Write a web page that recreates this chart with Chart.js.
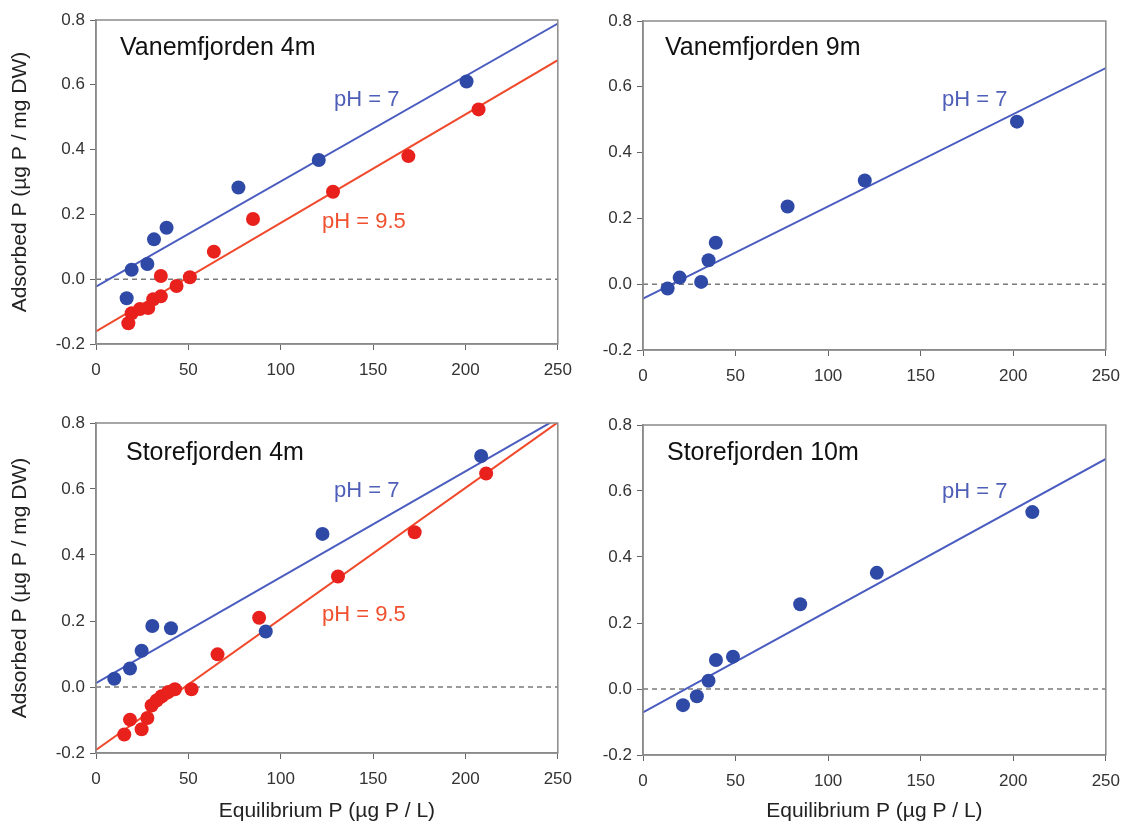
<!DOCTYPE html>
<html>
  <head>
    <title>Phosphorus adsorption isotherms</title>
    <style>
      body { margin: 0; background: #fff; width: 1122px; height: 828px; position: relative; overflow: hidden; }
      .panel { position: absolute; }
    </style>
  </head>
  <body>
    <script src="https://cdn.jsdelivr.net/npm/chart.js"></script>

    <canvas id="c1" class="panel" style="left:0px;top:0px" width="582" height="405"></canvas>
    <canvas id="c2" class="panel" style="left:565px;top:0px" width="565" height="405"></canvas>
    <canvas id="c3" class="panel" style="left:0px;top:405px" width="582" height="423"></canvas>
    <canvas id="c4" class="panel" style="left:565px;top:405px" width="565" height="423"></canvas>

    <script>
      // Vanemfjorden 4m
      const v4BlueX = [16.6, 19.3, 27.8, 31.4, 38.2, 77.1, 120.6, 200.6];
      const v4BlueY = [-0.059, 0.029, 0.047, 0.123, 0.159, 0.283, 0.368, 0.610];
      const v4RedX = [17.5, 19.3, 23.8, 28.3, 31.0, 35.1, 35.1, 43.6, 50.8, 63.8, 85.0, 128.3, 169.1, 207.1];
      const v4RedY = [-0.136, -0.105, -0.092, -0.089, -0.062, -0.053, 0.010, -0.021, 0.006, 0.085, 0.186, 0.270, 0.380, 0.524];
      const v4BlueFit = [-0.023, 0.789]; // value at x=0 and x=250
      const v4RedFit = [-0.161, 0.676];

      // Vanemfjorden 9m
      const v9BlueX = [13.3, 19.8, 31.4, 35.4, 39.3, 78.1, 119.8, 202.0];
      const v9BlueY = [-0.013, 0.020, 0.007, 0.073, 0.126, 0.236, 0.315, 0.494];
      const v9BlueFit = [-0.044, 0.657];

      // Storefjorden 4m
      const s4BlueX = [9.9, 18.4, 24.7, 30.5, 40.6, 91.9, 122.6, 208.5];
      const s4BlueY = [0.025, 0.056, 0.110, 0.185, 0.178, 0.168, 0.464, 0.700];
      const s4RedX = [15.3, 18.4, 24.7, 27.8, 30.1, 32.8, 35.5, 39.1, 42.7, 51.7, 65.8, 88.3, 131.0, 172.5, 211.2];
      const s4RedY = [-0.144, -0.099, -0.128, -0.094, -0.056, -0.041, -0.028, -0.015, -0.007, -0.007, 0.099, 0.210, 0.335, 0.469, 0.647];
      const s4BlueFit = [0.012, 0.814];
      const s4RedFit = [-0.191, 0.802];

      // Storefjorden 10m
      const s10BlueX = [21.6, 29.1, 35.4, 39.4, 48.6, 84.9, 126.3, 210.3];
      const s10BlueY = [-0.049, -0.022, 0.025, 0.088, 0.098, 0.257, 0.352, 0.536];
      const s10BlueFit = [-0.071, 0.697];

      const xTicks = [0, 50, 100, 150, 200, 250];
      const yTicks = [-0.2, 0.0, 0.2, 0.4, 0.6, 0.8];

      const BLUE_PT = '#2f49a6';
      const BLUE_LN = '#4a5cc0';
      const BLUE_TX = '#4f5fb8';
      const RED_PT = '#e8211d';
      const RED_LN = '#f0492c';
      const RED_TX = '#f0502e';
      const FONT = 'Arial, "Liberation Sans", sans-serif';

      function pts(xs, ys) {
        return xs.map((x, i) => ({ x: x, y: ys[i] }));
      }

      function fitLine(fit) {
        return [{ x: xTicks[0], y: fit[0] }, { x: xTicks[xTicks.length - 1], y: fit[1] }];
      }

      // draws the frame round the plot area and the text labels inside it
      const framePlugin = {
        id: 'frame',
        afterDraw(chart, args, opts) {
          const ctx = chart.ctx;
          const a = chart.chartArea;
          ctx.save();
          ctx.strokeStyle = '#8a8a8a';
          ctx.lineWidth = 1.5;
          ctx.strokeRect(a.left, a.top, a.right - a.left, a.bottom - a.top);
          ctx.textBaseline = 'middle';
          (opts.labels || []).forEach(l => {
            ctx.fillStyle = l.color;
            ctx.font = l.size + 'px ' + FONT;
            ctx.fillText(l.text, l.px, l.py);
          });
          ctx.restore();
        }
      };

      function makePanel(id, series, cfg) {
        const datasets = [
          {
            type: 'line',
            data: [{ x: 0, y: 0 }, { x: 250, y: 0 }],
            borderColor: '#7a7a7a',
            borderWidth: 1.5,
            borderDash: [5, 4],
            pointRadius: 0,
            order: 3,
          },
        ];
        series.forEach(s => {
          datasets.push({
            type: 'line',
            data: fitLine(s.fit),
            borderColor: s.lineColor,
            borderWidth: 2,
            pointRadius: 0,
            order: 2,
          });
          datasets.push({
            type: 'scatter',
            data: pts(s.x, s.y),
            backgroundColor: s.pointColor,
            borderColor: s.pointColor,
            pointRadius: 7,
            borderWidth: 0,
            order: 1,
          });
        });

        new Chart(document.getElementById(id), {
          type: 'scatter',
          data: { datasets: datasets },
          options: {
            responsive: false,
            animation: false,
            layout: { padding: { top: cfg.top, right: cfg.right, left: 0, bottom: 0 } },
            plugins: {
              legend: { display: false },
              tooltip: { enabled: false },
              frame: { labels: cfg.labels },
            },
            scales: {
              x: {
                type: 'linear',
                min: 0,
                max: 250,
                afterBuildTicks: s => { s.ticks = xTicks.map(v => ({ value: v })); },
                ticks: { color: '#333', font: { size: 17, family: FONT }, padding: 10 },
                grid: { drawOnChartArea: false, drawTicks: true, tickLength: 6, color: '#666' },
                border: { color: '#8a8a8a', width: 1.5 },
                title: {
                  display: cfg.xTitle,
                  text: 'Equilibrium P (µg P / L)',
                  color: '#222',
                  font: { size: 21, family: FONT },
                  padding: { top: 4, bottom: 4 },
                },
                afterFit: s => { s.height = cfg.xHeight; },
              },
              y: {
                type: 'linear',
                min: -0.2,
                max: 0.8,
                afterBuildTicks: s => { s.ticks = yTicks.map(v => ({ value: v })); },
                ticks: {
                  color: '#333',
                  font: { size: 17, family: FONT },
                  padding: 5,
                  callback: v => v.toFixed(1),
                },
                grid: { drawOnChartArea: false, drawTicks: true, tickLength: 6, color: '#666' },
                border: { color: '#8a8a8a', width: 1.5 },
                title: {
                  display: cfg.yTitle,
                  text: 'Adsorbed P (µg P / mg DW)',
                  color: '#222',
                  font: { size: 21, family: FONT },
                  padding: { top: 8, bottom: 0 },
                },
                afterFit: s => { s.width = cfg.yWidth; },
              },
            },
          },
          plugins: [framePlugin],
        });
      }

      makePanel('c1', [
        { x: v4BlueX, y: v4BlueY, fit: v4BlueFit, pointColor: BLUE_PT, lineColor: BLUE_LN },
        { x: v4RedX, y: v4RedY, fit: v4RedFit, pointColor: RED_PT, lineColor: RED_LN },
      ], {
        top: 20, right: 16, yWidth: 96, xHeight: 61, xTitle: false, yTitle: true,
        labels: [
          { text: 'Vanemfjorden 4m', px: 120, py: 48, color: '#111', size: 25 },
          { text: 'pH = 7', px: 334, py: 100, color: BLUE_TX, size: 22 },
          { text: 'pH = 9.5', px: 322, py: 222, color: RED_TX, size: 22 },
        ],
      });

      makePanel('c2', [
        { x: v9BlueX, y: v9BlueY, fit: v9BlueFit, pointColor: BLUE_PT, lineColor: BLUE_LN },
      ], {
        top: 21, right: 16, yWidth: 78, xHeight: 55, xTitle: false, yTitle: false,
        labels: [
          { text: 'Vanemfjorden 9m', px: 100, py: 48, color: '#111', size: 25 },
          { text: 'pH = 7', px: 377, py: 100, color: BLUE_TX, size: 22 },
        ],
      });

      makePanel('c3', [
        { x: s4BlueX, y: s4BlueY, fit: s4BlueFit, pointColor: BLUE_PT, lineColor: BLUE_LN },
        { x: s4RedX, y: s4RedY, fit: s4RedFit, pointColor: RED_PT, lineColor: RED_LN },
      ], {
        top: 18, right: 16, yWidth: 96, xHeight: 75, xTitle: true, yTitle: true,
        labels: [
          { text: 'Storefjorden 4m', px: 126, py: 48, color: '#111', size: 25 },
          { text: 'pH = 7', px: 334, py: 86, color: BLUE_TX, size: 22 },
          { text: 'pH = 9.5', px: 322, py: 210, color: RED_TX, size: 22 },
        ],
      });

      makePanel('c4', [
        { x: s10BlueX, y: s10BlueY, fit: s10BlueFit, pointColor: BLUE_PT, lineColor: BLUE_LN },
      ], {
        top: 20, right: 16, yWidth: 78, xHeight: 73, xTitle: true, yTitle: false,
        labels: [
          { text: 'Storefjorden 10m', px: 102, py: 48, color: '#111', size: 25 },
          { text: 'pH = 7', px: 377, py: 87, color: BLUE_TX, size: 22 },
        ],
      });
    </script>
  </body>
</html>
